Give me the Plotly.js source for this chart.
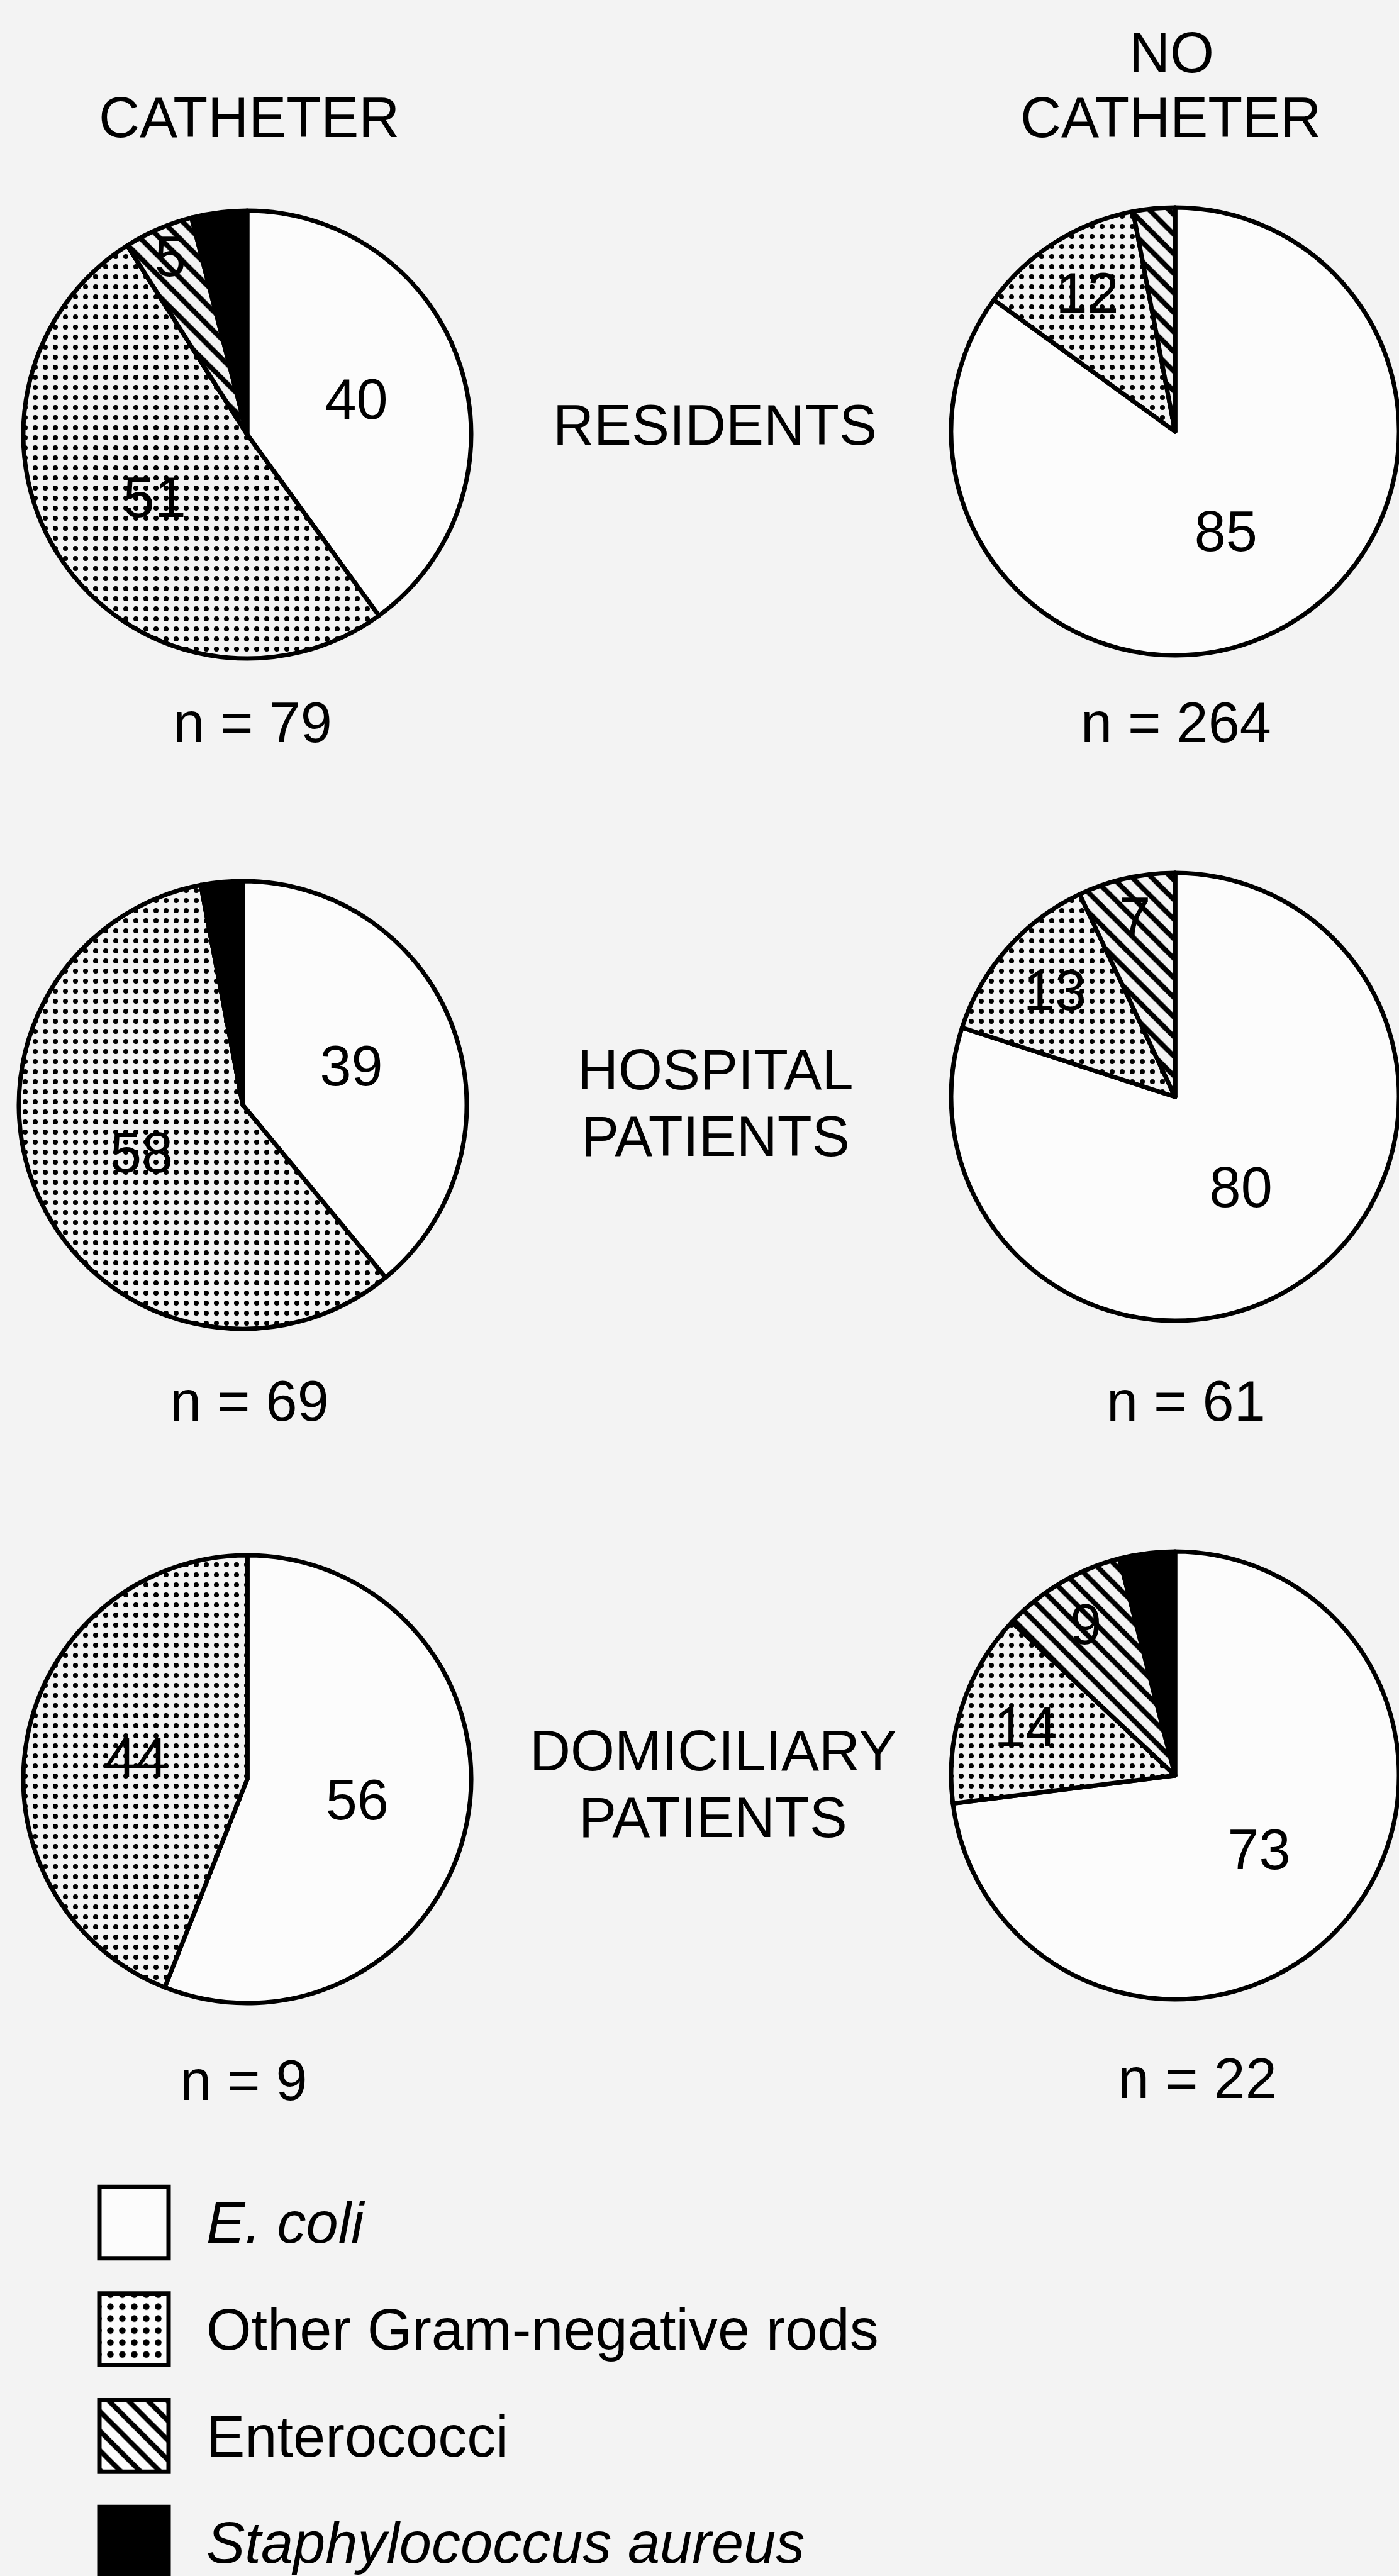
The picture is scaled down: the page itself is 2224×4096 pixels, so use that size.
<!DOCTYPE html>
<html>
<head>
<meta charset="utf-8">
<script src="https://cdn.plot.ly/plotly-3.0.1.min.js"></script>
<style>
html, body { margin: 0; padding: 0; background: #f3f3f3; overflow: hidden; }
#chart { width: 2224px; height: 4096px; }
</style>
</head>
<body>
<div id="chart"></div>
<script>
// ---------------- data ----------------
const organisms = ['E. coli', 'Other Gram-negative rods', 'Enterococci', 'Staphylococcus aureus'];
const organismLabels = ['<i>E. coli</i>', 'Other Gram-negative rods', 'Enterococci', '<i>Staphylococcus aureus</i>'];
const columnTitleLines = [['CATHETER'], ['NO', 'CATHETER']];
const rowTitleLines = [['RESIDENTS'], ['HOSPITAL', 'PATIENTS'], ['DOMICILIARY', 'PATIENTS']];

// percentages, in the order of `organisms`
const residentsCatheter     = [40, 51, 5, 4];
const residentsNoCatheter   = [85, 12, 3, 0];
const hospitalCatheter      = [39, 58, 0, 3];
const hospitalNoCatheter    = [80, 13, 7, 0];
const domiciliaryCatheter   = [56, 44, 0, 0];
const domiciliaryNoCatheter = [73, 14, 9, 4];

// number of patients (catheter, no catheter)
const nResidents   = [79, 264];
const nHospital    = [69, 61];
const nDomiciliary = [9, 22];

const legendSwatch = 1;

// ---------------- layout geometry (pixels) ----------------
const W = 2224, H = 4096;
const FONT = 'Liberation Sans, Arial, Helvetica, sans-serif';
const R = 356;
const pieCenters = [[393, 691], [1868, 686], [386, 1757], [1868, 1744], [393, 2829], [1868, 2823]];
const nLabelPos  = [[401, 1149], [1869, 1149], [396, 2228], [1885, 2228], [387, 3308], [1903, 3305]];
const colTitlePos = [[[396, 187]], [[1862, 84], [1861, 187]]];
const rowTitlePos = [[[1136, 676]], [[1137, 1701], [1137, 1807]], [[1133, 2784], [1133, 2890]]];

const sliceFill = ['#fcfcfc', '#fcfcfc', '#fcfcfc', '#000000'];
const slicePattern = ['', '.', '\\', ''];
const patternSize = [16, 16, 22, 16];
const patternSolidity = [0.2, 0.2, 0.36, 0.2];

function px(x) { return x / W; }
function py(y) { return 1 - y / H; }

const pieSets = [residentsCatheter, residentsNoCatheter, hospitalCatheter,
                 hospitalNoCatheter, domiciliaryCatheter, domiciliaryNoCatheter];

const traces = pieSets.map((vals, i) => {
  const [cx, cy] = pieCenters[i];
  return {
    type: 'pie',
    labels: organisms,
    values: vals,
    sort: false,
    direction: 'clockwise',
    rotation: 0,
    text: vals.map(v => (v >= 5 ? String(v) : '')),
    textinfo: 'text',
    textposition: 'inside',
    insidetextorientation: 'horizontal',
    textfont: { family: FONT, size: 90, color: '#000' },
    marker: {
      colors: sliceFill,
      line: { color: '#000', width: 7 },
      pattern: { shape: slicePattern, fgcolor: '#000', size: patternSize, solidity: patternSolidity, fillmode: 'replace' }
    },
    domain: { x: [px(cx - R), Math.min(1, px(cx + R))], y: [py(cy + R), py(cy - R)] },
    showlegend: false,
    hoverinfo: 'skip'
  };
});

// legend swatches: one bar per organism on a hidden axis
organisms.forEach((org, k) => {
  const marker = {
    color: sliceFill[k],
    line: { color: '#000', width: 7 }
  };
  if (slicePattern[k]) {
    marker.pattern = { shape: slicePattern[k], fgcolor: '#000', bgcolor: sliceFill[k],
                       size: k === 1 ? 19 : patternSize[k], solidity: k === 1 ? 0.24 : patternSolidity[k],
                       fillmode: 'replace' };
  }
  traces.push({
    type: 'bar',
    orientation: 'h',
    x: [legendSwatch],
    y: [org],
    base: 0,
    width: 0.67,
    xaxis: 'x',
    yaxis: 'y',
    marker: marker,
    showlegend: false,
    hoverinfo: 'skip'
  });
});

const annotations = [];
function addText(text, pos, size) {
  annotations.push({
    text: text, x: px(pos[0]), y: py(pos[1]), xref: 'paper', yref: 'paper',
    xanchor: 'center', yanchor: 'middle', showarrow: false,
    font: { family: FONT, size: size, color: '#000' }
  });
}
columnTitleLines.forEach((lines, c) => lines.forEach((t, k) => addText(t, colTitlePos[c][k], 90)));
rowTitleLines.forEach((lines, r) => lines.forEach((t, k) => addText(t, rowTitlePos[r][k], 90)));
[nResidents, nHospital, nDomiciliary].forEach((pair, r) => {
  pair.forEach((n, c) => addText('n = ' + n, nLabelPos[r * 2 + c], 90));
});

const rowPitch = 169.7;
const legendTop = 3534 - rowPitch / 2;

const layout = {
  width: W, height: H,
  margin: { l: 0, r: 0, t: 0, b: 0, pad: 0 },
  paper_bgcolor: '#f3f3f3',
  plot_bgcolor: 'rgba(0,0,0,0)',
  showlegend: false,
  barmode: 'overlay',
  uniformtext: { mode: 'show', minsize: 90 },
  xaxis: { domain: [px(147), px(279)], range: [-0.1, 1.1], visible: false, fixedrange: true },
  yaxis: {
    domain: [0, py(legendTop)],
    type: 'category',
    categoryorder: 'array', categoryarray: organisms,
    range: [-0.5 + (H - legendTop) / rowPitch, -0.5],
    autorange: false,
    side: 'right',
    ticks: '',
    showgrid: false, zeroline: false, showline: false,
    tickmode: 'array', tickvals: organisms, ticktext: organismLabels,
    tickfont: { family: FONT, size: 92, color: '#000' },
    ticklabelstandoff: 48,
    fixedrange: true
  },
  annotations: annotations
};

Plotly.newPlot('chart', traces, layout, { staticPlot: true, displayModeBar: false });
</script>
</body>
</html>
